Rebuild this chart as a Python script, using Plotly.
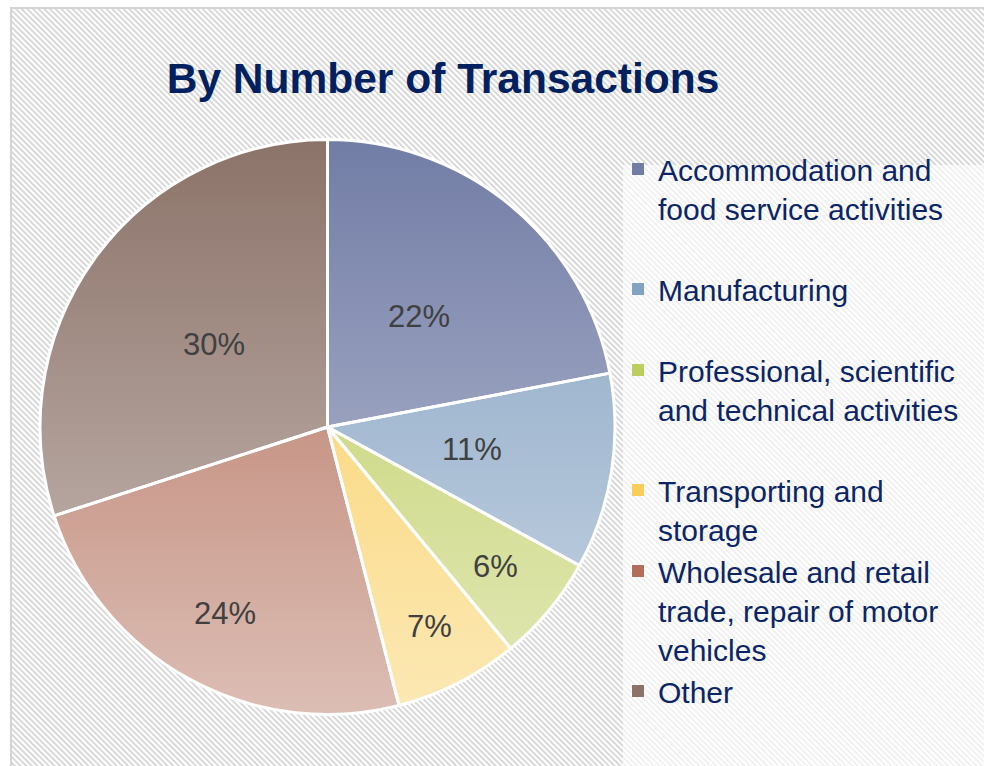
import base64
import math
import plotly.graph_objects as go

# --- data -------------------------------------------------------------
categories = [
    "Accommodation and<br>food service activities",
    "Manufacturing",
    "Professional, scientific<br>and technical activities",
    "Transporting and<br>storage",
    "Wholesale and retail<br>trade, repair of motor<br>vehicles",
    "Other",
]
shares = [22, 11, 6, 7, 24, 30]
title_text = "By Number of Transactions"

# --- styling ----------------------------------------------------------
W, H = 984, 766
NAVY = "#0b2566"
FONT = "Arial, Liberation Sans, sans-serif"

slice_colors = [
    "rgb(114,125,166)",
    "rgb(132,162,194)",
    "rgb(190,205,95)",
    "rgb(248,205,90)",
    "rgb(178,110,90)",
    "rgb(140,115,105)",
]

# blank lines appended to legend entries to even out their spacing
legend_pad = [1, 1, 1, 0, 0, 0]
legend_labels = [c + "<br> " * p for c, p in zip(categories, legend_pad)]

# radial position of each percentage label, as a fraction of the radius
label_radius = [0.50, 0.51, 0.76, 0.78, 0.74, 0.49]

# pie placement (pixels) -> paper-domain
cx, cy, r = 327.5, 427.0, 287.5
dom_x = [(cx - r) / W, (cx + r) / W]
dom_y = [1 - (cy + r) / H, 1 - (cy - r) / H]

# background: hatched panel, light frame, translucent legend panel
bg_svg = f"""<svg xmlns="http://www.w3.org/2000/svg" width="{W}" height="{H}" viewBox="0 0 {W} {H}">
<defs>
<pattern id="hatch" width="4" height="4" patternUnits="userSpaceOnUse" patternTransform="rotate(-45)">
<rect width="4" height="4" fill="#ffffff"/>
<rect width="2" height="4" fill="#d9d9d9"/>
</pattern>
</defs>
<rect width="{W}" height="{H}" fill="#ffffff"/>
<rect x="11" y="8" width="{W-11}" height="{H-8}" fill="url(#hatch)"/>
<rect x="10" y="7" width="{W-10}" height="2" fill="#d4d4d4"/>
<rect x="10" y="7" width="2" height="{H-7}" fill="#d4d4d4"/>
<rect x="623" y="165" width="{W-623}" height="{H-165}" fill="#ffffff" fill-opacity="0.62"/>
</svg>"""
bg_uri = "data:image/svg+xml;base64," + base64.b64encode(bg_svg.encode()).decode()

# soft white sheen over the pie: clear at the top, milky at the bottom
sheen_svg = f"""<svg xmlns="http://www.w3.org/2000/svg" width="{W}" height="{H}" viewBox="0 0 {W} {H}">
<defs>
<linearGradient id="sheen" x1="0" y1="0" x2="0" y2="1">
<stop offset="0" stop-color="#ffffff" stop-opacity="0"/>
<stop offset="1" stop-color="#ffffff" stop-opacity="0.55"/>
</linearGradient>
</defs>
<circle cx="{cx}" cy="{cy}" r="{r}" fill="url(#sheen)"/>
</svg>"""
sheen_uri = "data:image/svg+xml;base64," + base64.b64encode(sheen_svg.encode()).decode()

total = sum(shares)

fig = go.Figure()
# filled wedges
fig.add_trace(
    go.Pie(
        labels=legend_labels,
        values=shares,
        sort=False,
        direction="clockwise",
        rotation=0,
        domain=dict(x=dom_x, y=dom_y),
        marker=dict(colors=slice_colors, line=dict(width=0)),
        textinfo="none",
        hoverinfo="label+percent",
    )
)
# white separators between the wedges
fig.add_trace(
    go.Pie(
        labels=legend_labels,
        values=shares,
        sort=False,
        direction="clockwise",
        rotation=0,
        domain=dict(x=dom_x, y=dom_y),
        marker=dict(colors=["rgba(0,0,0,0)"] * len(shares), line=dict(color="white", width=3)),
        textinfo="none",
        hoverinfo="skip",
        showlegend=False,
    )
)

# percentage labels placed at each wedge's mid-angle
annotations = []
cum = 0.0
for v, rf in zip(shares, label_radius):
    mid = (cum + v / 2) / total * 2 * math.pi
    cum += v
    px = cx + rf * r * math.sin(mid)
    py = cy - rf * r * math.cos(mid)
    annotations.append(
        dict(
            x=px / W,
            y=1 - py / H,
            xref="paper",
            yref="paper",
            xanchor="center",
            yanchor="middle",
            text=f"{round(v / total * 100)}%",
            showarrow=False,
            font=dict(family=FONT, size=31, color="#404040"),
        )
    )

fig.update_layout(
    width=W,
    height=H,
    margin=dict(l=0, r=0, t=0, b=0),
    paper_bgcolor="white",
    plot_bgcolor="white",
    title=dict(
        text="<b>" + title_text + "</b>",
        x=443 / W,
        xanchor="center",
        y=1 - 78 / H,
        yanchor="middle",
        font=dict(family=FONT, size=42.5, color="#002060"),
    ),
    legend=dict(
        x=618 / W,
        xanchor="left",
        y=1 - 143 / H,
        yanchor="top",
        valign="top",
        bgcolor="rgba(0,0,0,0)",
        font=dict(family=FONT, size=30, color=NAVY),
        itemclick=False,
    ),
    annotations=annotations,
    images=[
        dict(
            source=bg_uri,
            xref="paper", yref="paper",
            x=0, y=1, sizex=1, sizey=1,
            xanchor="left", yanchor="top",
            sizing="stretch", layer="below",
        ),
        dict(
            source=sheen_uri,
            xref="paper", yref="paper",
            x=0, y=1, sizex=1, sizey=1,
            xanchor="left", yanchor="top",
            sizing="stretch", layer="above",
        ),
    ],
)

fig.write_html("out.html")
